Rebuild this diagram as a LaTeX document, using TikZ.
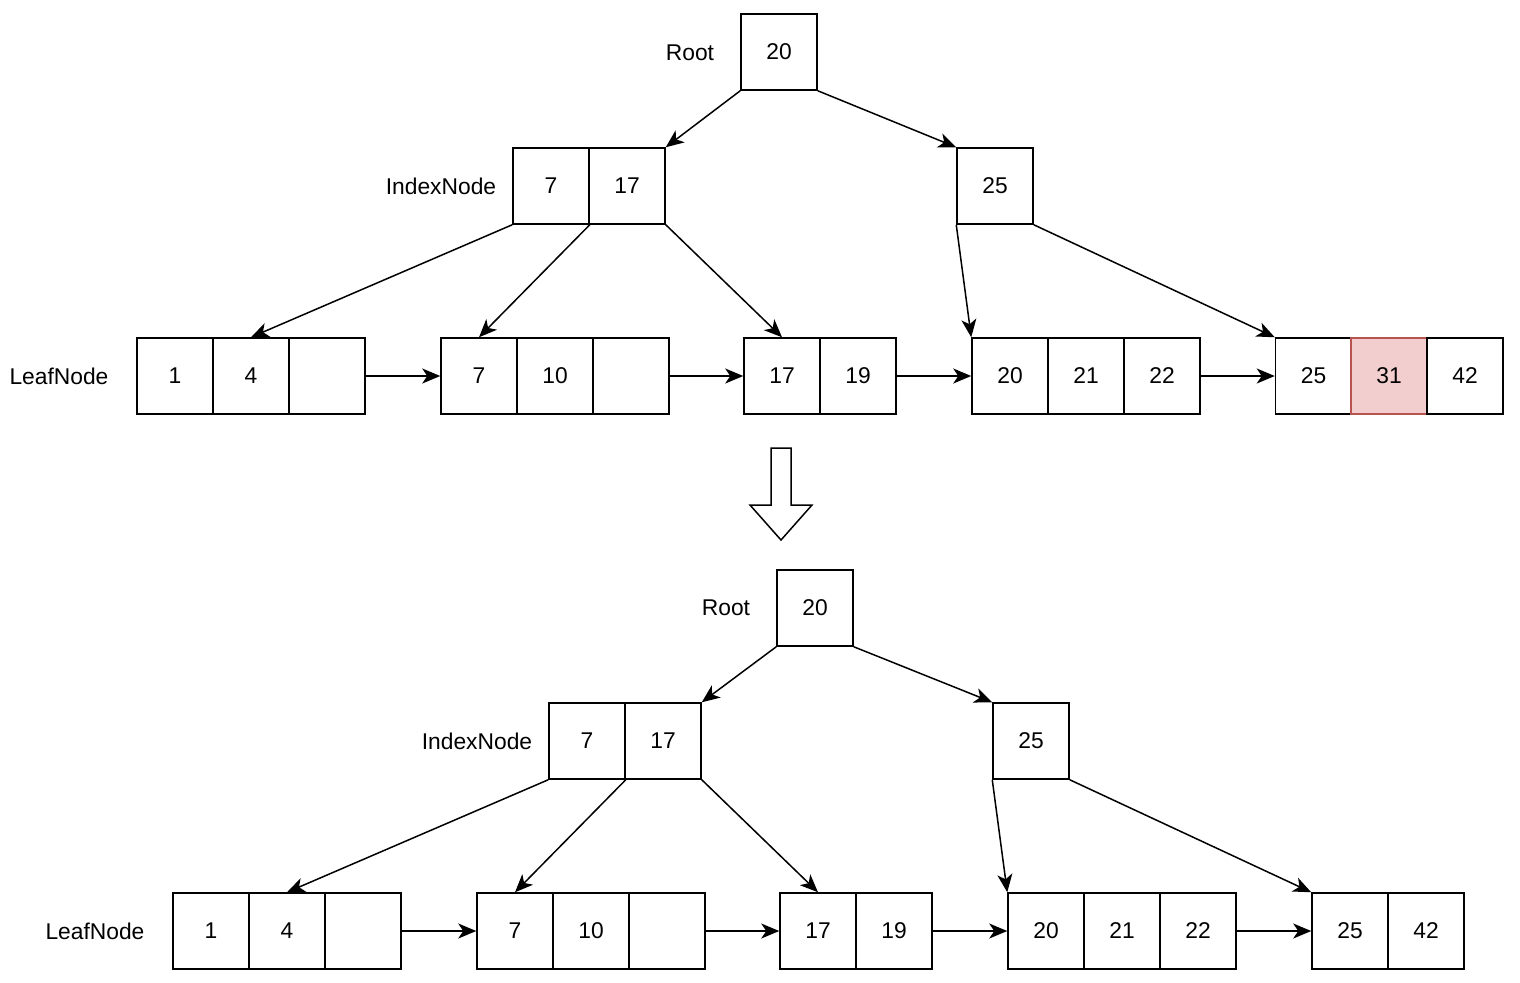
\documentclass[tikz,border=0pt]{standalone}
\usepackage{fontspec}
\setmainfont{Liberation Sans}
\usetikzlibrary{arrows.meta}
\definecolor{hlfill}{HTML}{F2CFCE}
\definecolor{hldraw}{HTML}{B85450}
\begin{document}
\begin{tikzpicture}[x=0.5pt,y=-0.5pt,
  cell/.style={draw,line width=0.75pt,minimum width=38pt,minimum height=38pt,inner sep=0pt,font=\fontsize{11.4pt}{13pt}\selectfont},
  hl/.style={cell,fill=hlfill,draw=hldraw},
  lbl/.style={inner sep=0pt,font=\fontsize{11.4pt}{13pt}\selectfont},
  link/.style={line width=0.75pt,-{Stealth[length=9pt,width=7.5pt,inset=2.5pt]}},
  bigarrow/.style={draw,line width=0.75pt,fill=white}]
\useasboundingbox (0,0) rectangle (1520,982);
% ---------- top tree ----------
\node[cell] (troot) at (779,52) {20};
\node[lbl] (trootl) at (690,53) {Root};
\node[cell] (ti1) at (551,186) {7};
\node[cell] (ti2) at (627,186) {17};
\node[lbl] (til) at (441,186) {IndexNode};
\node[cell] (tr25) at (995,186) {25};
\node[lbl] (tll) at (59,376) {LeafNode};
\node[cell] (tl1a) at (175,376) {1};
\node[cell] (tl1b) at (251,376) {4};
\node[cell] (tl1c) at (327,376) {};
\node[cell] (tl2a) at (479,376) {7};
\node[cell] (tl2b) at (555,376) {10};
\node[cell] (tl2c) at (631,376) {};
\node[cell] (tl3a) at (782,376) {17};
\node[cell] (tl3b) at (858,376) {19};
\node[cell] (tl4a) at (1010,376) {20};
\node[cell] (tl4b) at (1086,376) {21};
\node[cell] (tl4c) at (1162,376) {22};
\node[cell] (tl5a) at (1313.5,376) {25};
\node[hl]   (tl5b) at (1389,376) {31};
\node[cell] (tl5c) at (1465,376) {42};
\draw[link] (troot.south west) -- (ti2.north east);
\draw[link] (troot.south east) -- (tr25.north west);
\draw[link] (ti1.south west) -- (tl1b.north);
\draw[link] (ti1.south east) -- (tl2a.north);
\draw[link] (ti2.south east) -- (tl3a.north);
\draw[link] (tr25.south west) -- (tl4a.north west);
\draw[link] (tr25.south east) -- (tl5a.north west);
\draw[link] (tl1c.east) -- (tl2a.west);
\draw[link] (tl2c.east) -- (tl3a.west);
\draw[link] (tl3b.east) -- (tl4a.west);
\draw[link] (tl4c.east) -- (tl5a.west);
% ---------- big down arrow ----------
\path[bigarrow] (771,448) -- (791,448) -- (791,505) -- (812,505) -- (781,540) -- (750,505) -- (771,505) -- cycle;
% ---------- bottom tree ----------
\node[cell] (broot) at (815,608) {20};
\node[lbl] (brootl) at (726,608) {Root};
\node[cell] (bi1) at (587,741) {7};
\node[cell] (bi2) at (663,741) {17};
\node[lbl] (bil) at (477,741) {IndexNode};
\node[cell] (br25) at (1031,741) {25};
\node[lbl] (bll) at (95,931) {LeafNode};
\node[cell] (bl1a) at (211,931) {1};
\node[cell] (bl1b) at (287,931) {4};
\node[cell] (bl1c) at (363,931) {};
\node[cell] (bl2a) at (515,931) {7};
\node[cell] (bl2b) at (591,931) {10};
\node[cell] (bl2c) at (667,931) {};
\node[cell] (bl3a) at (818,931) {17};
\node[cell] (bl3b) at (894,931) {19};
\node[cell] (bl4a) at (1046,931) {20};
\node[cell] (bl4b) at (1122,931) {21};
\node[cell] (bl4c) at (1198,931) {22};
\node[cell] (bl5a) at (1350,931) {25};
\node[cell] (bl5b) at (1426,931) {42};
\draw[link] (broot.south west) -- (bi2.north east);
\draw[link] (broot.south east) -- (br25.north west);
\draw[link] (bi1.south west) -- (bl1b.north);
\draw[link] (bi1.south east) -- (bl2a.north);
\draw[link] (bi2.south east) -- (bl3a.north);
\draw[link] (br25.south west) -- (bl4a.north west);
\draw[link] (br25.south east) -- (bl5a.north west);
\draw[link] (bl1c.east) -- (bl2a.west);
\draw[link] (bl2c.east) -- (bl3a.west);
\draw[link] (bl3b.east) -- (bl4a.west);
\draw[link] (bl4c.east) -- (bl5a.west);
\end{tikzpicture}
\end{document}
